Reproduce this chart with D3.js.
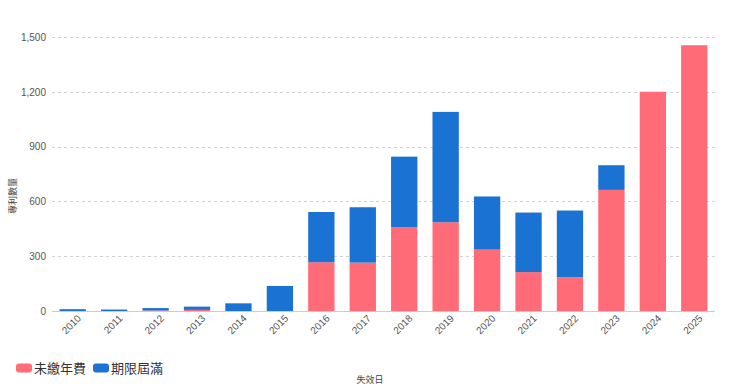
<!DOCTYPE html>
<html><head><meta charset="utf-8">
<script src="https://cdn.jsdelivr.net/npm/d3@7"></script>
<style>
html,body{margin:0;padding:0;background:#fff;}
svg{display:block;font-family:"Liberation Sans","Noto Sans CJK TC",Arial,sans-serif;}
</style></head>
<body><svg id="c" width="740" height="392"></svg>
<script>
const years = ["2010","2011","2012","2013","2014","2015","2016","2017","2018","2019","2020","2021","2022","2023","2024","2025"];
const unpaidFee = [0,0,3,6,0,0,267,265,458,486,336,213,185,663,1200,1455];
const termExpired = [10,8,13,18,42,137,275,303,387,604,291,326,365,135,0,0];
const yTicks = [0,300,600,900,1200,1500];
const seriesNames = ["未繳年費","期限屆滿"];
const colors = ["#ff6b77","#1a73d2"];

(function(){
const svg = d3.select("#c");
const pL = 52, pR = 715, pT = 37, pB = 311;
const x = d3.scaleBand().domain(years).range([pL,pR]).paddingInner(0.365).paddingOuter(0.1825);
const y = d3.scaleLinear().domain([0,1500]).range([pB,pT]);

// gridlines
svg.append("g").selectAll("line").data(yTicks.filter(d=>d>0)).join("line")
  .attr("x1",pL).attr("x2",pR)
  .attr("y1",d=>Math.round(y(d))+0.5).attr("y2",d=>Math.round(y(d))+0.5)
  .attr("stroke","#d0d0d0").attr("stroke-dasharray","3,3").attr("stroke-width",1);

// y axis labels
const yAxis = d3.axisLeft(y).tickValues(yTicks).tickSize(0).tickPadding(6).tickFormat(d3.format(","));
const yg = svg.append("g").attr("transform",`translate(${pL},0)`).call(yAxis);
yg.select(".domain").remove();
yg.selectAll("text").attr("fill","#555").style("font-size","10px").style("font-family","'Liberation Sans',Arial,sans-serif");

// stacked bars
const rows = years.map((yr,i)=>({year:yr, a:unpaidFee[i], b:termExpired[i]}));
const stack = d3.stack().keys(["a","b"])(rows);
svg.append("g").selectAll("g").data(stack).join("g")
  .attr("fill",(d,i)=>colors[i])
  .selectAll("rect").data(d=>d.filter(s=>s[1]-s[0]>0)).join("rect")
  .attr("x",d=>x(d.data.year))
  .attr("width",x.bandwidth())
  .attr("y",d=>y(d[1]))
  .attr("height",d=>y(d[0])-y(d[1]));

// x axis
const xAxis = d3.axisBottom(x).tickSize(0).tickPadding(0);
const xg = svg.append("g").attr("transform",`translate(0,${pB})`).call(xAxis);
xg.select(".domain").attr("stroke","#ccc").attr("d",`M${pL},0.5H${pR}`);
xg.selectAll("text").attr("fill","#555").style("font-size","10px")
  .attr("text-anchor","end").attr("y",0).attr("dy",0)
  .attr("transform","translate(9,8) rotate(-45)");

// axis titles
svg.append("text").attr("transform","translate(13,196) rotate(-90)")
  .attr("text-anchor","middle").attr("dy","0.35em")
  .style("font-size","9px").style("font-family","'Noto Sans CJK TC',sans-serif").attr("fill","#444")
  .text("專利數量");
svg.append("text").attr("x",370).attr("y",380).attr("text-anchor","middle").attr("dy","0.35em")
  .style("font-size","9px").style("font-family","'Noto Sans CJK TC',sans-serif").attr("fill","#444")
  .text("失效日");

// legend
const lg = svg.append("g");
let lx = 16;
seriesNames.forEach((n,i)=>{
  lg.append("rect").attr("x",lx).attr("y",363.5).attr("width",16).attr("height",9).attr("rx",3)
    .attr("fill",colors[i]);
  const t = lg.append("text").attr("x",lx+18).attr("y",368).attr("dy","0.35em")
    .style("font-size","13px").style("font-family","'Noto Sans CJK TC',sans-serif").attr("fill","#333")
    .text(n);
  lx += 18 + t.node().getComputedTextLength() + 7;
});
})();
</script></body></html>
